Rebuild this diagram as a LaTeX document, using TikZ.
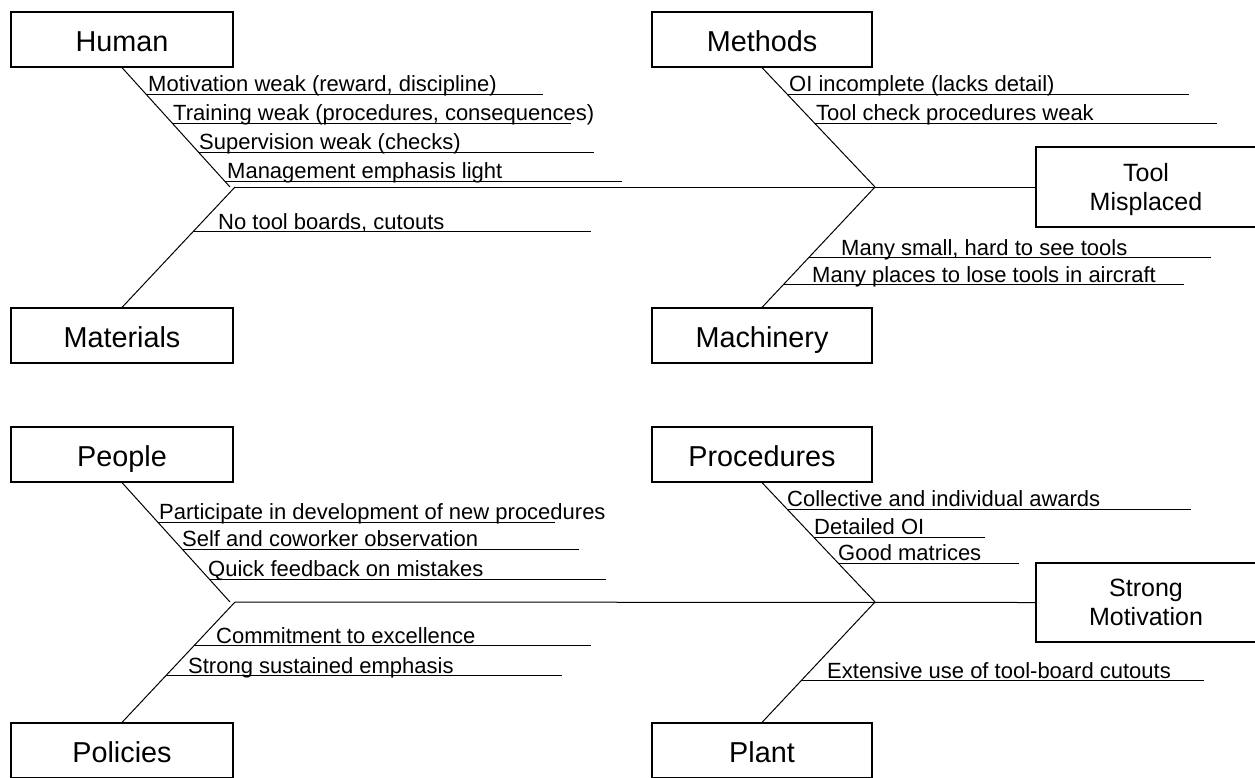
\documentclass[tikz,border=0pt]{standalone}
\usepackage{fontspec}
\setmainfont{Liberation Sans}
\usetikzlibrary{calc}
\newcommand\fbranch[7]{%
  \coordinate (#1s) at ($(#2)!#4!(#3)$);
  \coordinate (#1e) at (#5,0);
  \coordinate (#1x) at (#6,0);
  \draw[bone] (#1s) -- (#1s -| #1e);
  \node[lbl] (#1) at ($(#1s -| #1x)+(0,-2.5)$) {#7};
}
\begin{document}
\begin{tikzpicture}[x=1pt,y=-1pt,
  cat/.style={draw, line width=1.2pt, minimum width=222pt, minimum height=55pt, inner sep=0pt,
    font=\fontsize{28.8}{33}\selectfont, text height=23pt, text depth=0pt},
  effect/.style={draw, line width=1.2pt, minimum width=220pt, minimum height=80pt, inner sep=0pt,
    align=center, font=\fontsize{25}{29}\selectfont},
  bone/.style={line width=1pt},
  lbl/.style={anchor=base west, inner sep=0pt, font=\fontsize{22}{26}\selectfont}]
\useasboundingbox (0,0) rectangle (1255,777);

% category boxes
\node[cat] (human) at (122,39.5) {Human};
\node[cat, minimum width=220pt] (methods) at (762,39.5) {Methods};
\node[cat] (materials) at (122,335.5) {Materials};
\node[cat, minimum width=220pt] (machinery) at (762,335.5) {Machinery};
\node[cat] (people) at (122,454.5) {People};
\node[cat, minimum width=220pt] (procedures) at (762,454.5) {Procedures};
\node[cat] (policies) at (122,750.5) {Policies};
\node[cat, minimum width=220pt] (plant) at (762,750.5) {Plant};

% effect boxes
\node[effect] (tool) at (1146,187) {Tool\\Mis\smash{p}laced};
\node[effect, minimum height=79pt] (strong) at (1146,602.5) {Strong\\Motivation};

% junctions
\coordinate (jA) at (230,187);
\coordinate (jB) at (235,187);
\coordinate (jC) at (875,187);
\coordinate (jD) at (230,602);
\coordinate (jE) at (235,602);
\coordinate (jF) at (875,602);

% bones
\draw[bone] (human.south) -- (jA);
\draw[bone] (materials.north) -- (jB);
\draw[bone] (jB) -- (tool.west);
\draw[bone] (methods.south) -- (jC);
\draw[bone] (machinery.north) -- (jC);
\draw[bone] (people.south) -- (jD);
\draw[bone] (policies.north) -- (jE);
\draw[bone] (jE) -- (strong.west);
\draw[bone] (procedures.south) -- (jF);
\draw[bone] (plant.north) -- (jF);

% branches (top)
\fbranch{b1}{human.south}{jA}{0.225}{543}{148}{Motivation weak (reward, discipline)}
\fbranch{b2}{human.south}{jA}{0.467}{571}{173}{Training weak (procedures, consequences)}
\fbranch{b3}{human.south}{jA}{0.708}{594}{199}{Supervision weak (checks)}
\fbranch{b4}{human.south}{jA}{0.95}{622}{227}{Management emphasis light}
\fbranch{b5}{materials.north}{jB}{0.628}{591}{218}{No tool boards, cutouts}
\fbranch{b6}{methods.south}{jC}{0.225}{1189}{789}{OI incomplete (lacks detail)}
\fbranch{b7}{methods.south}{jC}{0.467}{1217}{816}{Tool check procedures weak}
\fbranch{b8}{machinery.north}{jC}{0.413}{1211}{841}{Many small, hard to see tools}
\fbranch{b9}{machinery.north}{jC}{0.19}{1184}{812}{Many places to lose tools in aircraft}

% branches (bottom)
\fbranch{c1}{people.south}{jD}{0.333}{555}{159}{Participate in development of new procedures}
\fbranch{c2}{people.south}{jD}{0.558}{579}{182}{Self and coworker observation}
\fbranch{c3}{people.south}{jD}{0.808}{606}{208}{Quick feedback on mistakes}
\fbranch{c4}{policies.north}{jE}{0.636}{591}{216}{Commitment to excellence}
\fbranch{c5}{policies.north}{jE}{0.388}{562}{188}{Strong sustained emphasis}
\fbranch{c6}{procedures.south}{jF}{0.225}{1191}{787}{Collective and individual awards}
\fbranch{c7}{procedures.south}{jF}{0.458}{985}{814}{Detailed OI}
\fbranch{c8}{procedures.south}{jF}{0.675}{1019}{838}{Good matrices}
\fbranch{c9}{plant.north}{jF}{0.347}{1204}{827}{Extensive use of tool-board cutouts}
\end{tikzpicture}
\end{document}
